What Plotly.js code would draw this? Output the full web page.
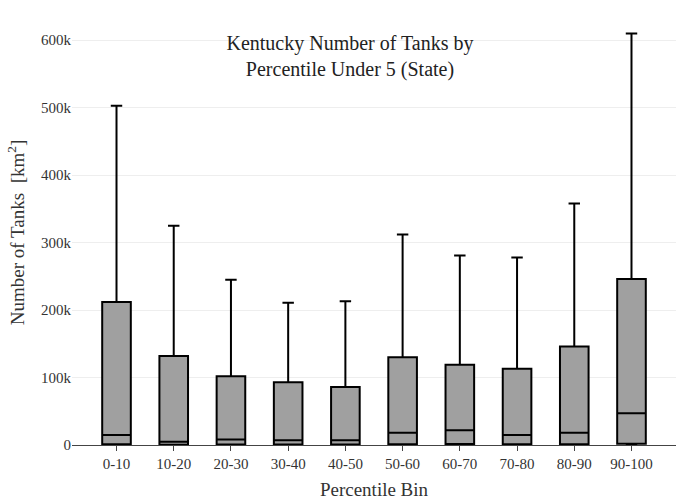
<!DOCTYPE html>
<html><head><script src="https://cdn.plot.ly/plotly-3.0.1.min.js"></script></head>
<body style="margin:0"><div id="c" style="width:700px;height:500px"></div>
<script>
const categories=["0-10","10-20","20-30","30-40","40-50","50-60","60-70","70-80","80-90","90-100"];
const q1=[1000,500,800,700,700,1200,1500,1200,1200,2000];
const medians=[15000,5000,8000,7000,7000,18000,22000,15000,18000,47000];
const q3=[212000,132000,102000,93000,86000,130000,119000,113000,146000,246000];
const lower=[0,0,0,0,0,0,0,0,0,0];
const upper=[503000,325000,245000,211000,213000,312000,281000,278000,358000,610000];
Plotly.newPlot('c',[{type:'box',x:categories,q1:q1,median:medians,q3:q3,lowerfence:lower,upperfence:upper,
 fillcolor:'#a0a0a0',line:{color:'black',width:2},whiskerwidth:0.4,width:0.5,hoverinfo:'none'}],
{width:700,height:500,margin:{l:72,r:24,t:20,b:55},showlegend:false,
 font:{family:'Liberation Serif',size:15,color:'#333'},
 title:{text:'Kentucky Number of Tanks by<br>Percentile Under 5 (State)',x:0.5,y:0.9,font:{family:'Liberation Serif',size:20,color:'#222'}},
 xaxis:{title:{text:'Percentile Bin',font:{family:'Liberation Serif',size:19}},showline:true,linecolor:'#444',ticks:'outside',ticklen:5,tickcolor:'#444',tickfont:{family:'Liberation Serif',size:15}},
 yaxis:{title:{text:'Number of Tanks  [km<sup>2</sup>]',font:{family:'Liberation Serif',size:19}},range:[0,630000],tickvals:[0,100000,200000,300000,400000,500000,600000],ticktext:['0','100k','200k','300k','400k','500k','600k'],gridcolor:'#eee',zeroline:false,tickfont:{family:'Liberation Serif',size:15}},
 plot_bgcolor:'white'},{displayModeBar:false});
</script></body></html>
